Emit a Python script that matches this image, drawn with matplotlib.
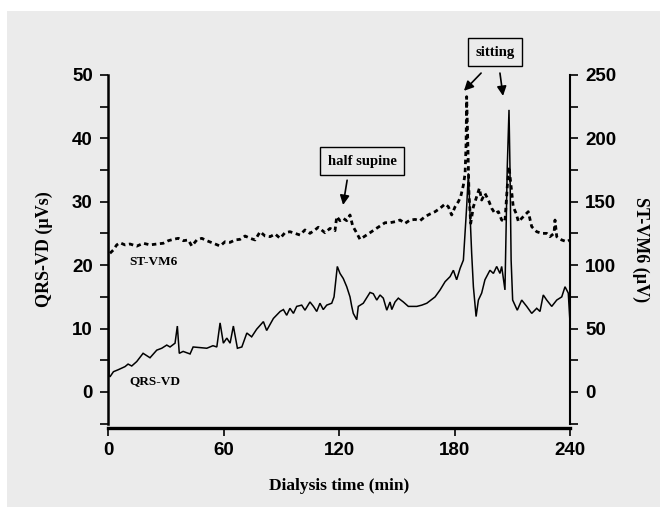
import matplotlib
matplotlib.use("Agg")
import matplotlib.pyplot as plt
from matplotlib import font_manager
from matplotlib.patches import Rectangle
from matplotlib.ticker import MultipleLocator

# QRS-VD (left axis, uVs)
qrs_t = [0, 0.5, 1.0, 2.8, 5.2, 8.8, 10.4, 12.3, 14.9, 18.2, 21.8, 25.3, 27.9, 30.5, 32.2,
         34.8, 36.0, 37.0, 39.0, 42.6, 44.2, 47.8, 51.3, 54.5, 56.5, 58.2, 59.9, 61.7, 63.4,
         65.1, 67.2, 69.5, 72.1, 74.6, 77.2, 80.7, 82.4, 85.9, 89.4, 91.1, 92.8, 94.5, 96.3,
         98.0, 100.6, 102.3, 104.9, 106.7, 108.4, 110.1, 111.8, 113.6, 116.2, 117.4, 119.1,
         120.5, 122.2, 124.0, 125.7, 126.6, 127.4, 129.2, 130.0, 132.6, 136.1, 137.8, 139.6,
         141.3, 143.0, 144.8, 146.5, 147.4, 149.1, 150.8, 153.4, 156.0, 160.4, 163.0, 165.6,
         169.9, 172.5, 175.1, 177.7, 179.4, 181.1, 182.9, 184.6, 186.3, 187.2, 188.1, 188.9,
         189.8, 191.2, 192.4, 194.1, 195.8, 198.4, 200.2, 201.9, 203.6, 204.5, 206.2, 207.4,
         208.3, 208.8, 209.4, 210.2, 212.6, 214.9, 217.5, 220.1, 222.7, 224.4, 226.1, 227.9,
         230.5, 233.1, 235.7, 237.4, 239.1, 240]
qrs_v = [37, 2.6, 2.4, 3.2, 3.5, 4.0, 4.4, 4.1, 4.8, 6.1, 5.4, 6.6, 6.9, 7.4, 7.1,
         7.7, 10.4, 6.1, 6.4, 6.0, 7.1, 7.0, 6.9, 7.3, 7.1, 10.9, 7.7, 8.5, 7.7,
         10.4, 6.9, 7.1, 9.3, 8.7, 9.9, 11.1, 9.7, 11.6, 12.7, 13.0, 12.1, 13.2, 12.4,
         13.5, 13.7, 12.9, 14.2, 13.5, 12.7, 14.0, 13.0, 13.7, 14.0, 15.0, 19.8,
         18.7, 17.9, 16.6, 15.0, 13.5, 12.4, 11.4, 13.5, 14.0, 15.7, 15.5, 14.5,
         15.3, 14.8, 12.9, 14.2, 13.0, 14.2, 14.8, 14.2, 13.5, 13.5, 13.7, 14.0,
         15.0, 16.1, 17.4, 18.2, 19.2, 17.7, 19.5, 20.8, 29.2, 34.5, 27.7, 21.9,
         16.6, 11.9, 14.5, 15.6, 17.7, 19.2, 18.7, 19.8, 18.7, 19.8, 16.1, 35.5,
         44.5, 35.5, 20.8, 14.5, 12.9, 14.5, 13.5, 12.4, 13.2, 12.7, 15.3, 14.5,
         13.5, 14.5, 15.0, 16.6, 15.6, 10.9]

# ST-VM6 (right axis, uV)
st_t = [1.0, 2.75, 4.5, 6.2, 8.8, 11.4, 14.9, 18.3, 21.8, 25.3, 28.7, 31.3, 33.9, 36.5,
        39.1, 41.7, 43.5, 46.1, 48.7, 51.3, 54.7,
        58.2, 60.8, 63.4, 66.0, 68.6, 71.2, 73.8, 76.4, 79.0, 81.6, 84.2, 86.8, 89.4, 91.9,
        94.5, 97.1, 99.7, 102.3, 104.9, 107.5, 109.2,
        112.7, 115.3, 117.9, 118.8, 120.5, 122.2, 124.0, 125.7, 127.1, 128.8, 130.9, 133.5,
        136.1, 138.7, 141.3, 143.9, 146.5, 149.1, 151.7, 154.3, 156.9, 159.5, 162.1, 164.7,
        167.3, 169.9,
        172.5, 175.1, 176.8, 178.5, 180.3, 182.0, 183.2, 184.6, 185.5, 186.0, 186.3, 186.9,
        187.5, 188.4, 189.8, 191.5, 192.9, 194.1, 195.8, 197.6, 199.3, 201.0, 202.8, 204.5,
        206.2, 207.4, 208.3, 209.4, 210.5, 212.0, 213.2, 214.9, 216.6, 218.3, 220.1, 222.7,
        225.3, 227.9, 229.6, 231.7, 232.2, 233.1, 235.7, 238.3, 240]
st_v = [109.4, 112, 116, 117.7, 116, 116.7, 115, 117.3, 116, 116.7, 117.3, 119.3, 120.4, 121.2,
        119.3, 119.9, 115.1, 119.9, 121.2, 119.3, 117.3,
        115.1, 118.5, 118, 119.9, 120.4, 123, 121.2, 119.9, 126.4, 123, 122.5, 124.6, 121.2,
        125.6, 126.4, 125.1, 123.8, 127.8, 125.1, 127.8, 129.9,
        125.6, 129, 127.2, 138.3, 135.1, 136.9, 135.1, 139.6, 130.9, 126.4, 120.4, 123,
        125.6, 128.3, 130.9, 133.5, 133.5, 134.3, 135.6, 133, 135.6, 136.1, 135.1, 138.3,
        140.4, 142.2,
        144.9, 148.3, 146.1, 139.6, 146.1, 150.1, 154, 163.2, 172.5, 196, 232.9, 196,
        156.6, 133, 146.1, 154, 160.6, 151.4, 156.6, 151.4, 144.9, 140.8, 142.2, 135.6,
        134.3, 161.9, 177.7, 161.9, 146.1, 140.8, 134.3, 137, 139.6, 142.2, 130.4, 126.4,
        125.1, 125.1, 122.5, 125.1, 135.6, 122.5, 119.9, 118.5, 119.9]

x_ticks = [0, 60, 120, 180, 240]
left_ticks = [0, 10, 20, 30, 40, 50]
right_ticks = [0, 50, 100, 150, 200, 250]

installed = {f.name for f in font_manager.fontManager.ttflist}
tick_font = 'Liberation Sans Narrow' if 'Liberation Sans Narrow' in installed else 'Liberation Sans'
serif = 'Liberation Serif'
bg = '#ebebeb'

fig = plt.figure(figsize=(6.67, 5.15), dpi=100)
fig.patch.set_facecolor('white')
fig.patches.append(Rectangle((7 / 667, 8 / 515), 653 / 667, 496 / 515,
                             transform=fig.transFigure, facecolor=bg, edgecolor='none', zorder=-10))

ax = fig.add_axes([0.162, 0.1773, 0.6926, 0.6771])
ax.set_facecolor('none')
ax2 = ax.twinx()
ax2.set_facecolor('none')

ax.plot(qrs_t, qrs_v, color='black', lw=1.1, solid_joinstyle='miter')
ax2.plot(st_t, st_v, color='black', lw=2.0, dashes=(1.6, 1.3))

ax.set_xlim(0, 240)
ax.set_ylim(-5, 50)
ax2.set_ylim(-25, 250)

for s in ['top', 'right']:
    ax.spines[s].set_visible(False)
for s in ['top', 'left', 'bottom']:
    ax2.spines[s].set_visible(False)
ax.spines['left'].set_linewidth(1.8)
ax.spines['bottom'].set_linewidth(2.4)
ax.spines['bottom'].set_position(('outward', 3))
ax2.spines['right'].set_linewidth(1.5)

ax.set_xticks(x_ticks)
ax.set_yticks(left_ticks)
ax.yaxis.set_minor_locator(MultipleLocator(5))
ax2.set_yticks(right_ticks)
ax2.yaxis.set_minor_locator(MultipleLocator(25))

ax.tick_params(axis='x', direction='out', length=6, width=1.2, pad=4)
ax.tick_params(axis='y', which='both', direction='out', length=6, width=1.2, pad=5)
ax2.tick_params(axis='y', which='both', direction='out', length=6, width=1.2, pad=5)

for lab in ax.get_xticklabels() + ax.get_yticklabels() + ax2.get_yticklabels():
    lab.set_fontfamily(tick_font)
    lab.set_fontweight('bold')
    lab.set_fontsize(13.5)

ax.set_xlabel('Dialysis time (min)', fontfamily=serif, fontweight='bold', fontsize=12.5, labelpad=14)
ax.set_ylabel('QRS-VD (µVs)', fontfamily=serif, fontweight='bold', fontsize=13, labelpad=14)
ax2.set_ylabel('ST-VM6 (µV)', fontfamily=serif, fontweight='bold', fontsize=13, rotation=270, labelpad=24)

ax.text(11, 20.0, 'ST-VM6', fontfamily=serif, fontweight='bold', fontsize=9.5)
ax.text(11, 1.2, 'QRS-VD', fontfamily=serif, fontweight='bold', fontsize=9.5)

box = dict(boxstyle='square,pad=0.5', facecolor=bg, edgecolor='black', lw=1.0)
ax.text(132, 36.4, 'half supine', fontfamily=serif, fontweight='bold', fontsize=10.5,
        ha='center', va='center', bbox=box)
ax.text(201, 53.6, 'sitting', fontfamily=serif, fontweight='bold', fontsize=10.5,
        ha='center', va='center', bbox=box, clip_on=False)

arrow = dict(arrowstyle='-|>', color='black', lw=1.2, mutation_scale=14, shrinkA=0, shrinkB=0)
ax.annotate('', xy=(122.1, 29.5), xytext=(124.2, 33.4), arrowprops=arrow)
ax.annotate('', xy=(184.9, 47.5), xytext=(193.8, 50.3), arrowprops=arrow, annotation_clip=False)
ax.annotate('', xy=(205.2, 46.7), xytext=(203.6, 50.3), arrowprops=arrow, annotation_clip=False)

fig.savefig('out.png', dpi=100, facecolor=fig.get_facecolor())
